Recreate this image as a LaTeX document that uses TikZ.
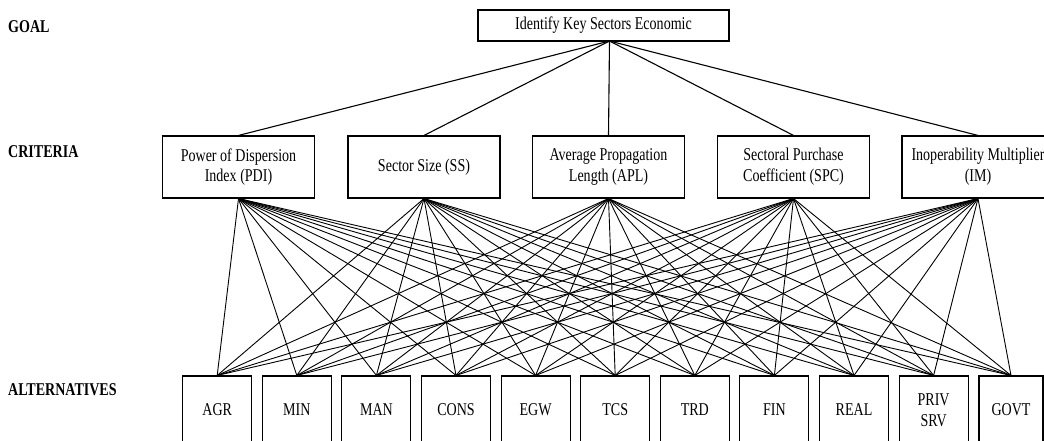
\documentclass[tikz,border=0pt]{standalone}
\usepackage{fontspec}
\setmainfont{Liberation Serif}[FakeStretch=0.78]
\begin{document}
\begin{tikzpicture}[x=1pt,y=-1pt,
  txt/.style={font=\fontsize{18}{20.7}\selectfont},
  box/.style={draw, line width=1.1pt, inner sep=0pt, align=center, txt},
  goalbox/.style={box, minimum width=251pt, minimum height=31pt},
  crit/.style={box, minimum width=152pt, minimum height=62pt},
  alt/.style={box, minimum width=69pt, minimum height=68pt},
  level/.style={anchor=west, inner sep=0pt, font=\fontsize{18}{20}\selectfont\bfseries},
  conn/.style={line width=0.9pt},
  topconn/.style={line width=1.1pt}]
\useasboundingbox (0,0) rectangle (1044,441);
% level labels
\node[level] (lgoal) at (8,27) {GOAL};
\node[level] (lcrit) at (8,152) {CRITERIA};
\node[level] (lalt) at (8,390) {ALTERNATIVES};
% goal
\node[goalbox] (goal) at (603.5,25.5) {Identify Key Sectors Economic};
\coordinate (apex) at (609.5,41);
% criteria
\node[crit] (pdi) at (238.5,167) {Power of Dispersion\\Index (PDI)};
\node[crit] (ss)  at (424,167) {Sector Size (SS)};
\node[crit] (apl) at (608.5,167) {Average Propagation\\Length (APL)};
\node[crit] (spc) at (793.5,167) {Sectoral Purchase\\Coefficient (SPC)};
\node[crit] (im)  at (978,167) {Inoperability Multiplier\\(IM)};
% alternatives
\node[alt] (agr)  at (217.2,410) {AGR};
\node[alt] (min)  at (296.8,410) {MIN};
\node[alt] (man)  at (376.4,410) {MAN};
\node[alt] (cons) at (456.0,410) {CONS};
\node[alt] (egw)  at (535.6,410) {EGW};
\node[alt] (tcs)  at (615.2,410) {TCS};
\node[alt] (trd)  at (694.8,410) {TRD};
\node[alt] (fin)  at (774.4,410) {FIN};
\node[alt] (real) at (854.0,410) {REAL};
\node[alt] (priv) at (933.6,410) {PRIV\\SRV};
\node[alt, minimum width=64pt] (govt) at (1011,410) {GOVT};
% connectors goal -> criteria
\foreach \c in {pdi,ss,apl,spc,im} \draw[topconn] (apex) -- (\c.north);
% connectors criteria -> alternatives
\foreach \c in {pdi,ss,apl,spc,im}
  \foreach \a in {agr,min,man,cons,egw,tcs,trd,fin,real,priv,govt}
    \draw[conn] (\c.south) -- (\a.north);
\end{tikzpicture}
\end{document}
